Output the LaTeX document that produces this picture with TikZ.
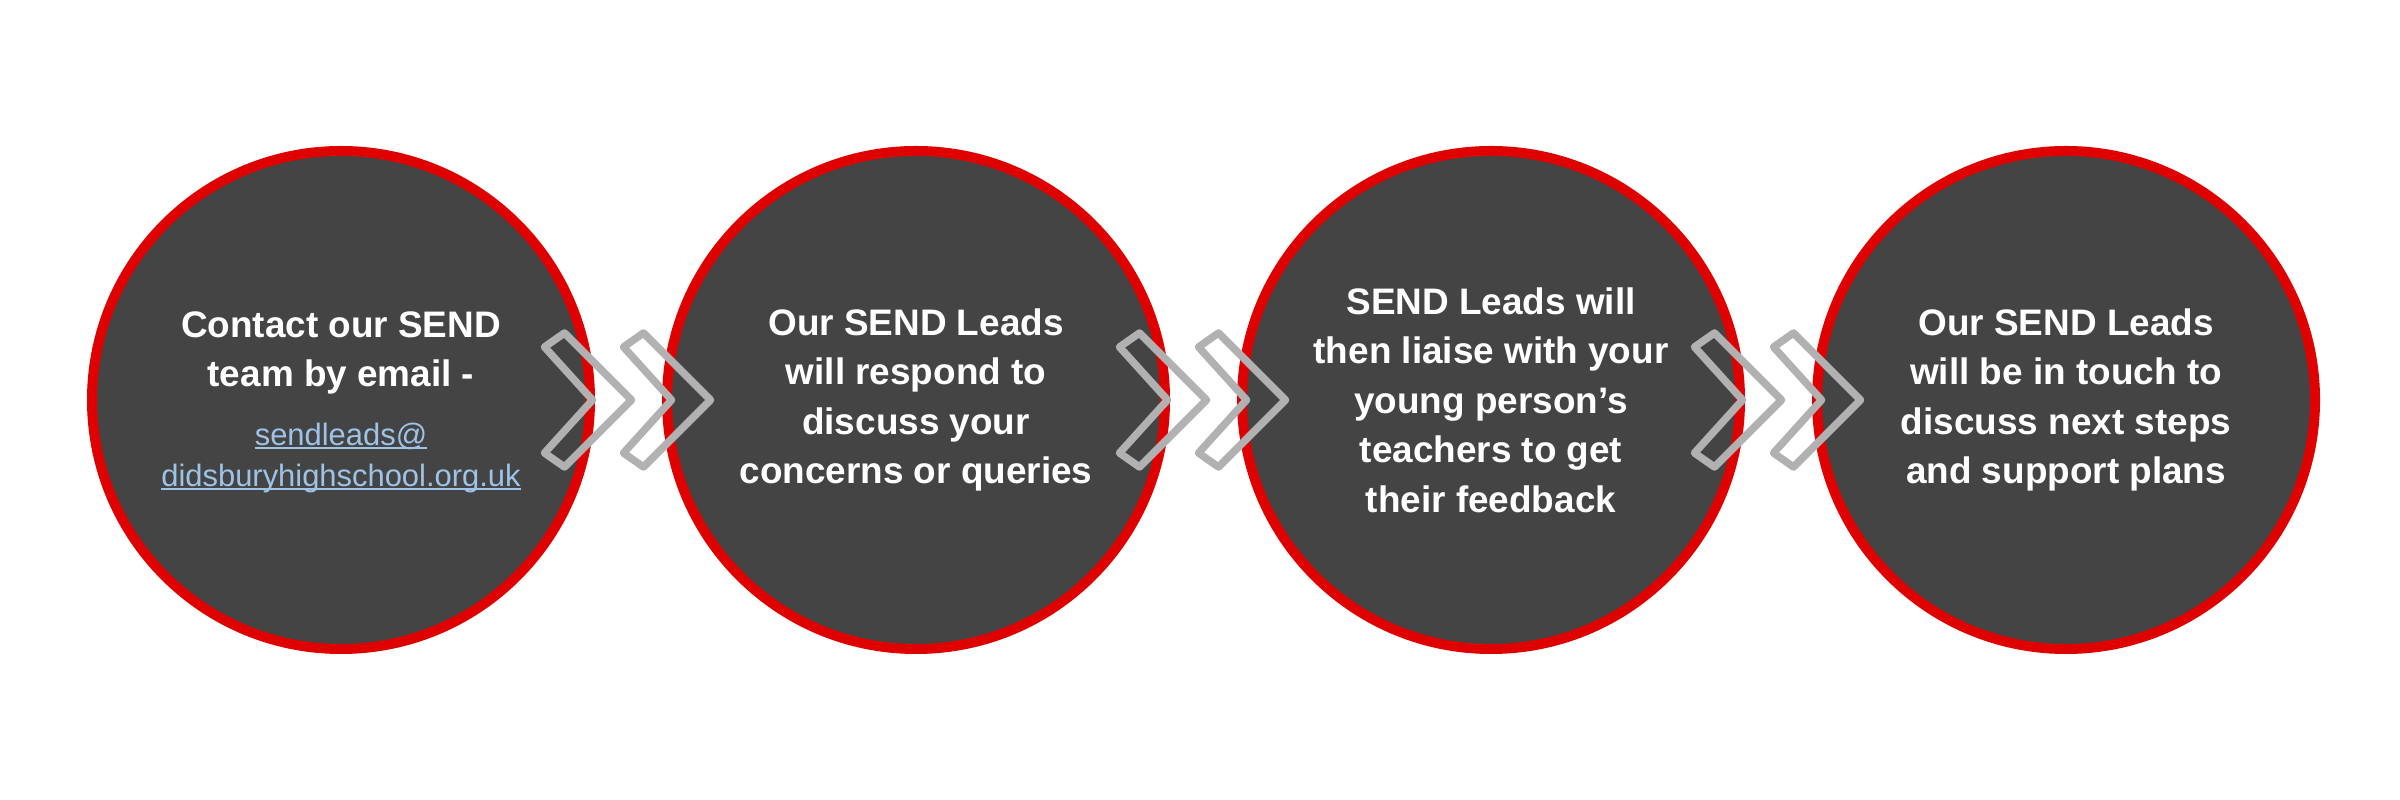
\documentclass[tikz,border=0pt]{standalone}
\usepackage{fontspec}
\setmainfont{Liberation Sans}
\usetikzlibrary{positioning,calc}
\definecolor{sendred}{HTML}{DF0000}
\definecolor{stepfill}{HTML}{444444}
\definecolor{chevgrey}{HTML}{B1B1B1}
\definecolor{mailblue}{HTML}{9DC3E6}
\newcommand\mailline[1]{\setbox0\hbox{#1}\rlap{\rule[-0.035cm]{\wd0}{0.016cm}}\box0}
\tikzset{
  stage/.style={circle, draw=sendred, line width=1mm, fill=stepfill, minimum size=4.98cm,
    inner sep=0pt, outer sep=0pt, text=white, align=center,
    font=\bfseries\fontsize{10.5}{14.1}\selectfont},
  stagetext/.style={text=white, align=center, inner sep=0pt,
    font=\bfseries\fontsize{10.5}{14.1}\selectfont},
  mail/.style={text=mailblue, align=center, inner sep=0pt,
    font=\fontsize{8.8}{11.7}\selectfont},
  chev/.style={draw=chevgrey, line width=0.75mm, line join=round}
}
\begin{document}
\begin{tikzpicture}
\useasboundingbox (0,0) rectangle (24,8);
\node[stage] (contact) at (3.41,4) {};
\node[stage, right=0.77cm of contact] (respond) {Our SEND Leads\\will respond to\\discuss your\\concerns or queries};
\node[stage, right=0.77cm of respond] (liaise) {SEND Leads will\\then liaise with your\\young person’s\\teachers to get\\their feedback};
\node[stage, right=0.77cm of liaise] (touch) {Our SEND Leads\\will be in touch to\\discuss next steps\\and support plans};
\node[stagetext] (contacttext) at ([yshift=0.47cm]contact.center) {Contact our SEND\\team by email -};
\node[mail] (contactmail) at ([yshift=-0.58cm]contact.center) {\mailline{sendleads@}\\\mailline{didsburyhighschool.org.uk}};
\foreach \a/\b in {contact/respond,respond/liaise,liaise/touch}
{
  \coordinate (gap) at ($(\a.east)!0.5!(\b.west)$);
  \foreach \dx in {0,0.79}
    \draw[chev, shift={(gap)}, xshift=\dx cm] (-0.84,0.53) -- (-0.64,0.67) -- (0.03,0) -- (-0.64,-0.67) -- (-0.84,-0.53) -- (-0.36,0) -- cycle;
}
\end{tikzpicture}
\end{document}
